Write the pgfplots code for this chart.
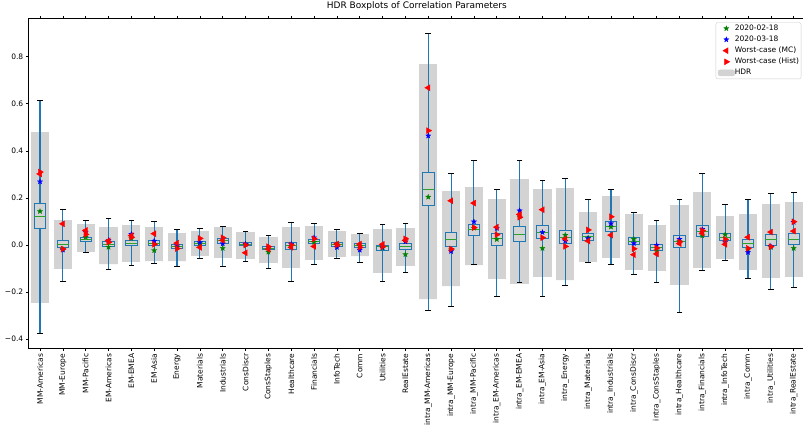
\documentclass[border=0pt]{standalone}
\usepackage{pgfplots}
\pgfplotsset{compat=1.18}
\usepackage{pgfplotstable}
\usepgfplotslibrary{statistics}
\usepackage{fontspec}
\setmainfont{DejaVu Sans}
\definecolor{c0}{HTML}{1F77B4}
\definecolor{c2}{HTML}{2CA02C}
\definecolor{hdr}{HTML}{D3D3D3}
\definecolor{mgreen}{rgb}{0,0.5,0}
\definecolor{mblue}{rgb}{0,0,1}
\definecolor{mred}{rgb}{1,0,0}

\pgfdeclareplotmark{fstar}{%
  \pgfpathmoveto{\pgfpointpolar{90}{\pgfplotmarksize}}%
  \pgfpathlineto{\pgfpointpolar{126}{0.42*\pgfplotmarksize}}%
  \pgfpathlineto{\pgfpointpolar{162}{\pgfplotmarksize}}%
  \pgfpathlineto{\pgfpointpolar{198}{0.42*\pgfplotmarksize}}%
  \pgfpathlineto{\pgfpointpolar{234}{\pgfplotmarksize}}%
  \pgfpathlineto{\pgfpointpolar{270}{0.42*\pgfplotmarksize}}%
  \pgfpathlineto{\pgfpointpolar{306}{\pgfplotmarksize}}%
  \pgfpathlineto{\pgfpointpolar{342}{0.42*\pgfplotmarksize}}%
  \pgfpathlineto{\pgfpointpolar{18}{\pgfplotmarksize}}%
  \pgfpathlineto{\pgfpointpolar{54}{0.42*\pgfplotmarksize}}%
  \pgfpathclose
  \pgfusepathqfillstroke
}

\pgfplotsset{
  hdrbox/.style={forget plot, draw=none, fill=hdr,
    boxplot/every box/.style={draw=none, fill=hdr},
    boxplot/every median/.style={draw=none},
    boxplot/every whisker/.style={draw=none}},
  realbox/.style={forget plot, draw=c0, fill=hdr, line width=0.9pt,
    boxplot/every box/.style={draw=c0, fill=hdr, line width=0.9pt},
    boxplot/every median/.style={draw=c2, line width=0.9pt},
    boxplot/every whisker/.style={draw=c0, line width=1.1pt}},
}

\pgfplotstableread{
x hlo hhi wlo q1 med q3 whi g b mc hist
1 -0.245 0.480 -0.374 0.072 0.123 0.177 0.615 0.143 0.269 0.302 0.310
2 -0.101 0.106 -0.153 -0.011 0.003 0.020 0.153 -0.017 -0.021 0.090 -0.017
3 -0.028 0.089 -0.030 0.017 0.024 0.033 0.105 0.034 0.054 0.062 0.045
4 -0.081 0.075 -0.105 -0.006 0.003 0.016 0.113 -0.009 0.020 0.018 0.012
5 -0.071 0.084 -0.086 -0.004 0.008 0.021 0.103 0.028 0.046 0.040 0.033
6 -0.068 0.075 -0.079 -0.003 0.008 0.020 0.100 -0.023 0.017 0.048 0.003
7 -0.069 0.051 -0.092 -0.016 -0.007 0.003 0.065 -0.009 -0.003 0.008 -0.015
8 -0.045 0.059 -0.058 -0.001 0.007 0.015 0.069 0.006 0.011 -0.010 0.028
9 -0.054 0.075 -0.091 0.008 0.018 0.027 0.078 -0.014 0.006 0.020 0.031
10 -0.058 0.055 -0.069 -0.004 0.003 0.010 0.058 0.002 0.004 -0.033 0.000
11 -0.075 0.033 -0.101 -0.020 -0.014 -0.006 0.042 -0.030 -0.010 -0.018 -0.007
12 -0.096 0.075 -0.156 -0.017 -0.004 0.010 0.096 -0.005 0.004 -0.010 0.000
13 -0.062 0.079 -0.081 0.006 0.014 0.024 0.093 0.012 0.031 -0.006 0.026
14 -0.050 0.059 -0.057 -0.007 0.001 0.010 0.065 0.003 -0.010 0.004 0.000
15 -0.047 0.045 -0.072 -0.010 -0.003 0.006 0.051 -0.005 -0.021 0.004 -0.010
16 -0.118 0.068 -0.153 -0.023 -0.008 -0.001 0.089 -0.013 -0.010 0.003 -0.007
17 -0.088 0.072 -0.116 -0.018 -0.006 0.006 0.091 -0.040 0.014 0.020 0.026
18 -0.231 0.769 -0.276 0.170 0.237 0.309 0.898 0.204 0.464 0.668 0.486
19 -0.176 0.228 -0.260 -0.007 0.024 0.052 0.303 -0.020 -0.027 0.188 -0.017
20 -0.085 0.246 -0.084 0.040 0.064 0.088 0.358 0.072 0.099 0.178 0.074
21 -0.143 0.195 -0.217 0.000 0.027 0.048 0.234 0.024 0.071 0.076 0.044
22 -0.164 0.279 -0.161 0.016 0.045 0.078 0.358 0.120 0.146 0.130 0.118
23 -0.135 0.237 -0.217 0.028 0.055 0.081 0.275 -0.014 0.054 0.150 0.031
24 -0.149 0.242 -0.173 0.007 0.034 0.061 0.283 0.042 0.017 0.026 -0.006
25 -0.071 0.140 -0.076 0.018 0.035 0.050 0.192 0.030 0.028 0.017 0.064
26 -0.054 0.208 -0.084 0.059 0.078 0.099 0.235 0.077 0.091 0.042 0.120
27 -0.106 0.132 -0.125 0.001 0.017 0.033 0.139 0.025 0.007 -0.041 -0.016
28 -0.109 0.084 -0.161 -0.024 -0.011 0.004 0.106 -0.024 -0.001 -0.038 -0.013
29 -0.169 0.170 -0.288 -0.010 0.016 0.042 0.194 0.015 0.025 0.006 0.013
30 -0.096 0.225 -0.109 0.035 0.057 0.082 0.302 0.040 0.067 0.050 0.061
31 -0.058 0.123 -0.065 0.020 0.034 0.050 0.173 0.044 0.013 0.003 0.024
32 -0.106 0.132 -0.142 -0.010 0.007 0.024 0.194 -0.020 -0.031 0.033 -0.014
33 -0.139 0.174 -0.188 0.000 0.023 0.045 0.218 -0.010 -0.005 0.055 -0.007
34 -0.135 0.183 -0.180 0.003 0.025 0.050 0.225 -0.014 0.097 0.059 0.099
}\data

\begin{document}
\begin{tikzpicture}
\begin{axis}[
  scale only axis, width=776.5pt, height=329.6pt,
  xmin=0.5, xmax=34.5, ymin=-0.4388, ymax=0.9614,
  axis line style={line width=0.6pt},
  tick align=outside, major tick length=2.6pt,
  tick style={black, line width=0.6pt},
  xtick={1,...,34},
  xticklabels={MM-Americas,MM-Europe,MM-Pacific,EM-Americas,EM-EMEA,EM-Asia,Energy,Materials,Industrials,ConsDiscr,ConsStaples,Healthcare,Financials,InfoTech,Comm,Utilities,RealEstate,intra\_MM-Americas,intra\_MM-Europe,intra\_MM-Pacific,intra\_EM-Americas,intra\_EM-EMEA,intra\_EM-Asia,intra\_Energy,intra\_Materials,intra\_Industrials,intra\_ConsDiscr,intra\_ConsStaples,intra\_Healthcare,intra\_Financials,intra\_InfoTech,intra\_Comm,intra\_Utilities,intra\_RealEstate},
  xticklabel style={rotate=90, anchor=east, font=\fontsize{7.5}{9}\selectfont, inner sep=0pt, xshift=-2.6pt},
  ytick={-0.4,-0.2,0,0.2,0.4,0.6,0.8},
  yticklabels={−0.4,−0.2,0.0,0.2,0.4,0.6,0.8},
  yticklabel style={font=\fontsize{7.5}{9}\selectfont, inner sep=0pt, xshift=-2.6pt},
  title={HDR Boxplots of Correlation Parameters},
  title style={font=\fontsize{9}{10}\selectfont, at={(0.5,1)}, anchor=base, yshift=4pt},
  legend cell align=left,
  legend image code/.code={\draw[#1] plot coordinates {(8.3pt,0pt)};},
  legend style={at={(1,1)}, anchor=north east, xshift=-3.8pt, yshift=-3.6pt,
    font=\fontsize{7.5}{9}\selectfont, draw=black!20, fill=white, rounded corners=2pt,
    inner xsep=2pt, inner ysep=2pt, row sep=3.1pt, column sep=0pt,
    nodes={inner sep=0pt, text height=6pt, text depth=2pt},
    /tikz/every even column/.append style={column sep=5.4pt}},
]
\pgfplotsinvokeforeach{0,...,33}{
  \pgfplotstablegetelem{#1}{hlo}\of\data \edef\vhlo{\pgfplotsretval}
  \pgfplotstablegetelem{#1}{hhi}\of\data \edef\vhhi{\pgfplotsretval}
  \edef\doplot{\noexpand\addplot[hdrbox, boxplot prepared={draw direction=y, draw position=\the\numexpr#1+1\relax,
      lower whisker=\vhlo, lower quartile=\vhlo, median=\vhlo,
      upper quartile=\vhhi, upper whisker=\vhhi, box extend=0.8, whisker extend=0}] coordinates {};}
  \doplot
}
\pgfplotsinvokeforeach{0,...,33}{
  \pgfplotstablegetelem{#1}{wlo}\of\data \edef\vwlo{\pgfplotsretval}
  \pgfplotstablegetelem{#1}{q1}\of\data \edef\vqa{\pgfplotsretval}
  \pgfplotstablegetelem{#1}{med}\of\data \edef\vmed{\pgfplotsretval}
  \pgfplotstablegetelem{#1}{q3}\of\data \edef\vqb{\pgfplotsretval}
  \pgfplotstablegetelem{#1}{whi}\of\data \edef\vwhi{\pgfplotsretval}
  \edef\doplot{\noexpand\addplot[realbox, boxplot prepared={draw direction=y, draw position=\the\numexpr#1+1\relax,
      lower whisker=\vwlo, lower quartile=\vqa, median=\vmed,
      upper quartile=\vqb, upper whisker=\vwhi, box extend=0.5, whisker extend=0}] coordinates {};}
  \doplot
}
\addplot[forget plot, only marks, mark=-, mark size=2.85pt, black, line width=0.9pt] table[x=x, y=wlo] {\data};
\addplot[forget plot, only marks, mark=-, mark size=2.85pt, black, line width=0.9pt] table[x=x, y=whi] {\data};
\addplot[only marks, mark=fstar, mark size=2.7pt, mgreen, line width=0.3pt] table[x=x, y=g] {\data};
\addlegendentry{2020-02-18}
\addplot[only marks, mark=fstar, mark size=2.7pt, mblue, line width=0.3pt] table[x=x, y=b] {\data};
\addlegendentry{2020-03-18}
\addplot[only marks, mark=triangle*, mark size=3.4pt, mred, mark options={rotate=90}] table[x=x, y=mc] {\data};
\addlegendentry{Worst-case (MC)}
\addplot[only marks, mark=triangle*, mark size=3.4pt, mred, mark options={rotate=-90}] table[x=x, y=hist] {\data};
\addlegendentry{Worst-case (Hist)}
\addlegendimage{legend image code/.code={\fill[hdr] (0pt,-3pt) rectangle (16.6pt,3pt);}}
\addlegendentry{HDR}
\end{axis}
\pgfresetboundingbox
\path[use as bounding box] (-28.58pt,-76.7pt) rectangle (774.42pt,348.3pt);
\end{tikzpicture}
\end{document}
